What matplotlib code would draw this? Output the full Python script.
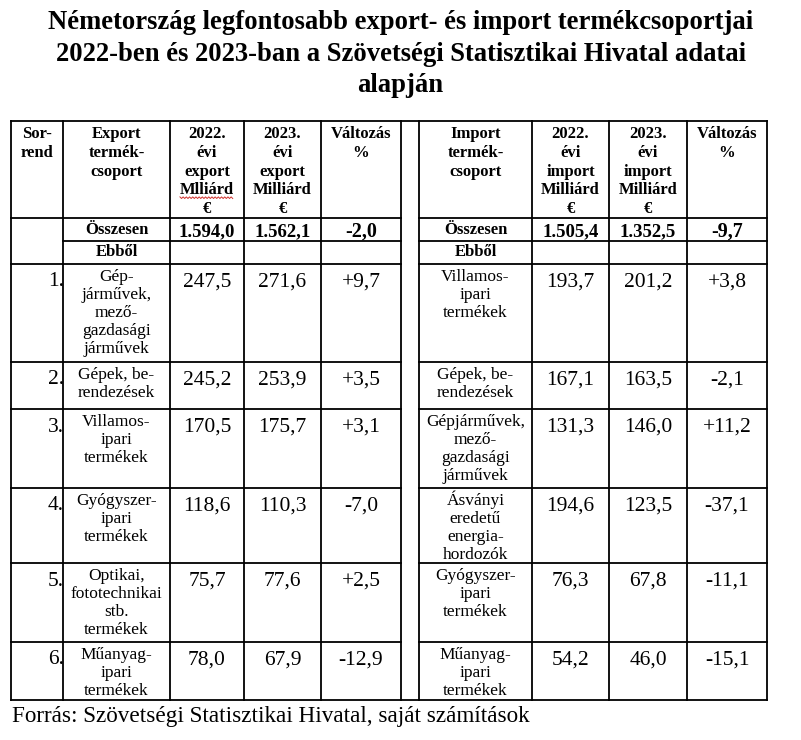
import matplotlib
matplotlib.use("Agg")
import matplotlib.pyplot as plt
import numpy as np

# ---------------- data ----------------
title_lines = ["Németország legfontosabb export- és import termékcsoportjai",
               "2022-ben és 2023-ban a Szövetségi Statisztikai Hivatal adatai",
               "alapján"]
footer = "Forrás: Szövetségi Statisztikai Hivatal, saját számítások"

header_left = ["Sor-\nrend", "Export\ntermék-\ncsoport", "2022.\névi\nexport\nMlliárd\n€",
               "2023.\névi\nexport\nMilliárd\n€", "Változás\n%"]
header_right = ["Import\ntermék-\ncsoport", "2022.\névi\nimport\nMilliárd\n€",
                "2023.\névi\nimport\nMilliárd\n€", "Változás\n%"]

rank = ["1.", "2.", "3.", "4.", "5.", "6."]
export_categories = ["Gép-\njárművek,\nmező-\ngazdasági\njárművek", "Gépek, be-\nrendezések",
                     "Villamos-\nipari\ntermékek", "Gyógyszer-\nipari\ntermékek",
                     "Optikai,\nfototechnikai\nstb.\ntermékek", "Műanyag-\nipari\ntermékek"]
export_2022 = [247.5, 245.2, 170.5, 118.6, 75.7, 78.0]
export_2023 = [271.6, 253.9, 175.7, 110.3, 77.6, 67.9]
export_change = [9.7, 3.5, 3.1, -7.0, 2.5, -12.9]

import_categories = ["Villamos-\nipari\ntermékek", "Gépek, be-\nrendezések",
                     "Gépjárművek,\nmező-\ngazdasági\njárművek",
                     "Ásványi\neredetű\nenergia-\nhordozók", "Gyógyszer-\nipari\ntermékek",
                     "Műanyag-\nipari\ntermékek"]
import_2022 = [193.7, 167.1, 131.3, 194.6, 76.3, 54.2]
import_2023 = [201.2, 163.5, 146.0, 123.5, 67.8, 46.0]
import_change = [3.8, -2.1, 11.2, -37.1, -11.1, -15.1]

total_label = "Összesen"
sub_label = "Ebből"
export_total = [1594.0, 1562.1, -2.0]
import_total = [1505.4, 1352.5, -9.7]

# ---------------- layout ----------------
W, H = 801, 740
col_left = [11, 63, 170, 244, 321, 401]
col_right = [419, 532, 609, 687, 767]
row_y = [121, 218, 241, 264, 362, 409, 488, 563, 642, 700]

SERIF = ["Liberation Serif", "DejaVu Serif"]

def hu(v, dec=1):
    s = f"{abs(v):,.{dec}f}".replace(",", "X").replace(".", ",").replace("X", ".")
    return s

def signed(v):
    s = hu(v)
    return ("+" if v > 0 else "-") + s

fig = plt.figure(figsize=(W / 100, H / 100), dpi=100)
ax = fig.add_axes([0, 0, 1, 1])
ax.set_xlim(0, W)
ax.set_ylim(H, 0)
ax.axis("off")

def lines(x, y0, text, size, spacing, weight="normal", ha="center"):
    objs = []
    for i, ln in enumerate(text.split("\n")):
        objs.append(ax.text(x, y0 + i * spacing, ln, fontsize=size, fontweight=weight,
                            ha=ha, va="baseline", family=SERIF, color="black"))
    return objs

# ---------------- grid ----------------
LW = 1.3
kw = dict(color="black", lw=LW, solid_capstyle="projecting")
ax.plot([col_left[0], col_right[-1]], [row_y[0]] * 2, **kw)
ax.plot([col_left[0], col_right[-1]], [row_y[-1]] * 2, **kw)
for i, y in enumerate(row_y[1:-1], start=1):
    xl0 = col_left[1] if i == 2 else col_left[0]
    ax.plot([xl0, col_left[-1]], [y, y], **kw)
    ax.plot([col_right[0], col_right[-1]], [y, y], **kw)
for x in col_left + col_right:
    ax.plot([x, x], [row_y[0], row_y[-1]], **kw)

# ---------------- title ----------------
title_base = [29, 61, 92]
t0 = ax.text(W / 2, title_base[0], title_lines[0], fontsize=20, fontweight="bold",
             ha="center", va="baseline", family=SERIF)
fig.canvas.draw()
r = fig.canvas.get_renderer()
w0 = t0.get_window_extent(r).width
tsize = 20 * 705 / w0
t0.set_fontsize(tsize)
for yb, ln in zip(title_base[1:], title_lines[1:]):
    ax.text(W / 2, yb, ln, fontsize=tsize, fontweight="bold", ha="center",
            va="baseline", family=SERIF)

# ---------------- header ----------------
HB, HS = 138, 18.8
cx_left = [(a + b) / 2 for a, b in zip(col_left[:-1], col_left[1:])]
cx_right = [(a + b) / 2 for a, b in zip(col_right[:-1], col_right[1:])]
hdr_objs = []
for x, t in zip(cx_left, header_left):
    hdr_objs.append(lines(x, HB, t, 12, HS, weight="bold"))
for x, t in zip(cx_right, header_right):
    lines(x, HB, t, 12, HS, weight="bold")

# red wavy spell-check underline beneath "Mlliárd"
fig.canvas.draw()
mll = hdr_objs[2][3]
bb = mll.get_window_extent(fig.canvas.get_renderer())
inv = ax.transData.inverted()
(x0, _), (x1, _) = inv.transform([(bb.x0, bb.y0), (bb.x1, bb.y0)])
yb = HB + 3 * HS + 2.5
xs = np.arange(x0, x1 + 0.1, 1.6)
ys = yb + np.where(np.arange(len(xs)) % 2 == 0, 0.0, 1.6)
ax.plot(xs, ys, color="#d0312d", lw=0.7)

# ---------------- totals ----------------
ax.text(cx_left[1], 234, total_label, fontsize=12, fontweight="bold", ha="center",
        va="baseline", family=SERIF)
ax.text(cx_right[0], 234, total_label, fontsize=12, fontweight="bold", ha="center",
        va="baseline", family=SERIF)
for k in range(2):
    ax.text(cx_left[2 + k], 236.5, hu(export_total[k]), fontsize=13.5, fontweight="bold",
            ha="center", va="baseline", family=SERIF)
    ax.text(cx_right[1 + k], 236.5, hu(import_total[k]), fontsize=13.5, fontweight="bold",
            ha="center", va="baseline", family=SERIF)
ax.text(cx_left[4], 236.5, signed(export_total[2]), fontsize=14.5, fontweight="bold",
        ha="center", va="baseline", family=SERIF)
ax.text(cx_right[3], 236.5, signed(import_total[2]), fontsize=14.5, fontweight="bold",
        ha="center", va="baseline", family=SERIF)
ax.text(cx_left[1], 256.5, sub_label, fontsize=12, fontweight="bold", ha="center",
        va="baseline", family=SERIF)
ax.text(cx_right[0], 256.5, sub_label, fontsize=12, fontweight="bold", ha="center",
        va="baseline", family=SERIF)

# ---------------- body ----------------
NUM = 15.5
NAME = 12.5
NS = 18.0
for i in range(6):
    top = row_y[3 + i]
    nb = top + 22.5
    ax.text(col_left[1] + 1, nb, rank[i], fontsize=NUM, ha="right", va="baseline",
            family=SERIF)
    lines(cx_left[1], top + 17, export_categories[i], NAME, NS)
    ax.text(cx_left[2], nb, hu(export_2022[i]), fontsize=NUM, ha="center",
            va="baseline", family=SERIF)
    ax.text(cx_left[3], nb, hu(export_2023[i]), fontsize=NUM, ha="center",
            va="baseline", family=SERIF)
    ax.text(cx_left[4], nb, signed(export_change[i]), fontsize=NUM, ha="center",
            va="baseline", family=SERIF)
    lines(cx_right[0], top + 17, import_categories[i], NAME, NS)
    ax.text(cx_right[1], nb, hu(import_2022[i]), fontsize=NUM, ha="center",
            va="baseline", family=SERIF)
    ax.text(cx_right[2], nb, hu(import_2023[i]), fontsize=NUM, ha="center",
            va="baseline", family=SERIF)
    ax.text(cx_right[3], nb, signed(import_change[i]), fontsize=NUM, ha="center",
            va="baseline", family=SERIF)

# ---------------- footer ----------------
f = ax.text(12, 722, footer, fontsize=14, ha="left", va="baseline", family=SERIF)
fig.canvas.draw()
fw = f.get_window_extent(fig.canvas.get_renderer()).width
f.set_fontsize(14 * 520 / fw)

fig.savefig("out.png", dpi=100, facecolor="white")
